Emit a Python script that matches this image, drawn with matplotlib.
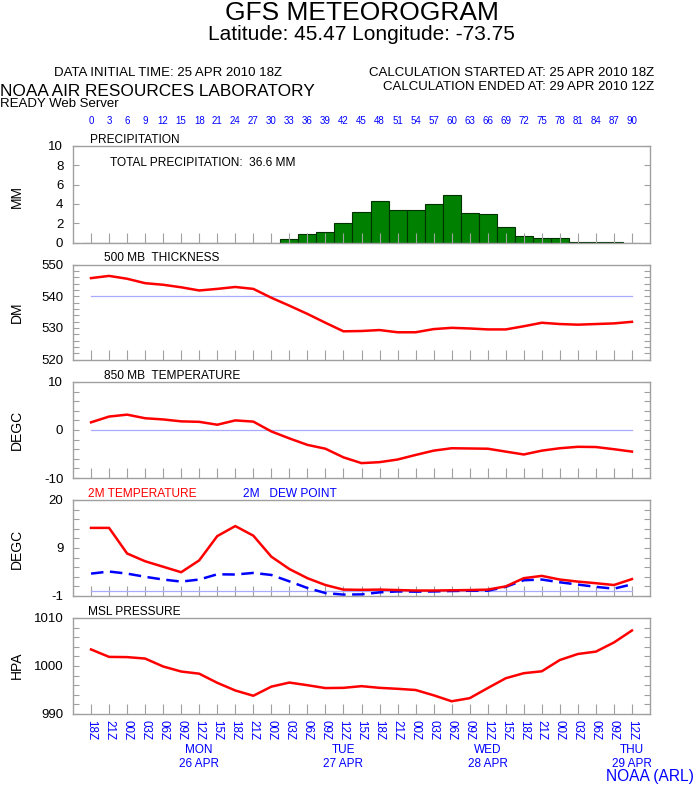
import numpy as np
import matplotlib
matplotlib.use("Agg")
import matplotlib.pyplot as plt
from matplotlib.ticker import FixedLocator, NullFormatter

plt.rcParams['font.family'] = ['Liberation Sans', 'DejaVu Sans']

W, H = 694, 787

# forecast hours (3-hourly)
hours = [0, 3, 6, 9, 12, 15, 18, 21, 24, 27, 30, 33, 36, 39, 42, 45,
         48, 51, 54, 57, 60, 63, 66, 69, 72, 75, 78, 81, 84, 87, 90]
utc_labels = ["18Z", "21Z", "00Z", "03Z", "06Z", "09Z", "12Z", "15Z",
              "18Z", "21Z", "00Z", "03Z", "06Z", "09Z", "12Z", "15Z",
              "18Z", "21Z", "00Z", "03Z", "06Z", "09Z", "12Z", "15Z",
              "18Z", "21Z", "00Z", "03Z", "06Z", "09Z", "12Z"]
day_hours = [18, 42, 66, 90]
day_names = ["MON", "TUE", "WED", "THU"]
day_dates = ["26 APR", "27 APR", "28 APR", "29 APR"]

# precipitation per 3h (mm)
precip = [0, 0, 0, 0, 0, 0, 0, 0, 0, 0, 0, 0.4, 0.85, 1.05, 2.0, 3.15,
          4.3, 3.35, 3.35, 4.0, 4.9, 3.1, 3.0, 1.6, 0.65, 0.5, 0.5,
          0.05, 0.05, 0.03, 0]
# 500 mb thickness (dm)
thickness = [545.7, 546.4, 545.5, 544.1, 543.6, 542.8, 541.8, 542.3, 542.9,
             542.3, 539.5, 537.0, 534.4, 531.6, 528.9, 529.0, 529.3, 528.6,
             528.6, 529.6, 530.0, 529.8, 529.5, 529.5, 530.5, 531.6, 531.2,
             531.0, 531.2, 531.4, 531.9]
# 850 mb temperature (C)
t850 = [1.6, 2.8, 3.2, 2.45, 2.2, 1.8, 1.7, 1.1, 2.0, 1.75, -0.3, -1.75,
        -3.1, -3.9, -5.7, -6.9, -6.7, -6.15, -5.2, -4.3, -3.8, -3.85, -3.9,
        -4.5, -5.1, -4.3, -3.8, -3.5, -3.55, -4.0, -4.5]
# 2 m temperature and dew point (C)
t2m = [13.9, 13.9, 8.3, 6.6, 5.4, 4.2, 6.8, 12.1, 14.3, 12.2, 7.6, 4.9,
       2.9, 1.4, 0.4, 0.35, 0.4, 0.3, 0.2, 0.2, 0.25, 0.3, 0.4, 1.1, 2.9,
       3.4, 2.6, 2.15, 1.8, 1.4, 2.7]
dew2m = [3.9, 4.35, 3.9, 3.2, 2.6, 2.15, 2.6, 3.75, 3.7, 4.05, 3.6, 2.2,
         0.75, -0.35, -0.7, -0.65, -0.2, 0.0, -0.05, 0.0, 0.1, 0.15, 0.15,
         1.0, 2.45, 2.6, 2.0, 1.5, 1.0, 0.6, 1.55]
# mean sea level pressure (hPa)
mslp = [1003.45, 1001.9, 1001.85, 1001.55, 999.9, 998.85, 998.4, 996.5,
        994.9, 993.8, 995.7, 996.55, 996.0, 995.4, 995.45, 995.8, 995.45,
        995.25, 995.0, 993.9, 992.65, 993.3, 995.4, 997.45, 998.5, 998.9,
        1001.25, 1002.5, 1003.0, 1004.9, 1007.4]

GRAY = "#a0a0a0"
REF = "#aaaaff"


def fx(x):
    return x / W


def fy(y):
    return 1 - y / H


def make_axes(fig, top, bottom):
    ax = fig.add_axes([fx(73), fy(bottom), fx(577), (bottom - top) / H])
    ax.set_xlim(-3, 93)
    for s in ax.spines.values():
        s.set_color(GRAY)
        s.set_linewidth(1)
    ax.set_xticks(hours)
    ax.set_xticklabels([])
    ax.tick_params(axis='x', direction='in', length=7, color=GRAY, width=0.8)
    ax.tick_params(axis='y', which='both', direction='in', length=4,
                   color=GRAY, width=0.8, left=True, right=True,
                   labelsize=9.5, pad=7)
    return ax


def set_yticks(ax, lo, hi, major, labels, minor):
    ax.set_ylim(lo, hi)
    ax.yaxis.set_major_locator(FixedLocator(major))
    ax.set_yticklabels(labels)
    ax.yaxis.set_minor_locator(FixedLocator(minor))
    ax.yaxis.set_minor_formatter(NullFormatter())


def ylabel(fig, y, txt):
    fig.text(fx(17), fy(y), txt, rotation=90, ha='center', va='center',
             fontsize=10)


fig = plt.figure(figsize=(W / 100, H / 100), dpi=100)

# header
fig.text(fx(362), fy(13), "GFS METEOROGRAM", ha='center', va='center',
         fontsize=19)
fig.text(fx(361), fy(34), "Latitude: 45.47 Longitude: -73.75",
         ha='center', va='center', fontsize=15)
fig.text(fx(168), fy(73), "DATA INITIAL TIME: 25 APR 2010 18Z",
         ha='center', va='center', fontsize=9.5)
fig.text(fx(0), fy(91), "NOAA AIR RESOURCES LABORATORY",
         ha='left', va='center', fontsize=12.4)
fig.text(fx(0), fy(104), "READY Web Server", ha='left', va='center',
         fontsize=9.5)
fig.text(fx(654), fy(73), "CALCULATION STARTED AT: 25 APR 2010 18Z",
         ha='right', va='center', fontsize=9.5)
fig.text(fx(654), fy(87), "CALCULATION ENDED AT: 29 APR 2010 12Z",
         ha='right', va='center', fontsize=9.5)

# precipitation
ax1 = make_axes(fig, 146, 242.5)
ax1.bar(hours, precip, width=3, color="#008000", edgecolor="#003300",
        linewidth=0.8)
set_yticks(ax1, 0, 10, [0, 2, 4, 6, 8, 10],
           ["0", "2", "4", "6", "8", "10"], [])
for h in hours:
    ax1.text(h, 1.26, str(h), transform=ax1.get_xaxis_transform(),
             ha='center', va='center', fontsize=7, color='blue')
fig.text(fx(90), fy(140), "PRECIPITATION", fontsize=8.6, va='center')
fig.text(fx(110), fy(163), "TOTAL PRECIPITATION:  36.6 MM", fontsize=8.6,
         va='center')
ylabel(fig, 196, "MM")

# 500 mb thickness
ax2 = make_axes(fig, 264.5, 359.5)
ax2.plot([hours[0], hours[-1]], [540, 540], color=REF, lw=0.9)
ax2.plot(hours, thickness, color='red', lw=1.8)
set_yticks(ax2, 520, 550, [520, 530, 540, 550],
           ["520", "530", "540", "550"],
           [522, 524, 526, 528, 532, 534, 536, 538, 542, 544, 546, 548])
fig.text(fx(104), fy(258), "500 MB  THICKNESS", fontsize=8.6, va='center')
ylabel(fig, 312, "DM")

# 850 mb temperature
ax3 = make_axes(fig, 382, 478)
ax3.plot([hours[0], hours[-1]], [0, 0], color=REF, lw=0.9)
ax3.plot(hours, t850, color='red', lw=1.8)
set_yticks(ax3, -10, 10, [-10, 0, 10], ["-10", "0", "10"],
           [-8, -6, -4, -2, 2, 4, 6, 8])
fig.text(fx(104), fy(376), "850 MB  TEMPERATURE", fontsize=8.6,
         va='center')
ylabel(fig, 430, "DEGC")

# 2 m temperature / dew point
ax4 = make_axes(fig, 500, 596)
ax4.plot([hours[0], hours[-1]], [0, 0], color=REF, lw=0.9)
ax4.plot(hours, dew2m, color='blue', lw=1.8, dashes=(5, 2.6))
ax4.plot(hours, t2m, color='red', lw=1.8)
set_yticks(ax4, -1, 20, [-1, 9.5, 20], ["-1", "9", "20"],
           [1.1, 3.2, 5.3, 7.4, 11.6, 13.7, 15.8, 17.9])
fig.text(fx(88), fy(494), "2M TEMPERATURE", fontsize=8.6, va='center',
         color='red')
fig.text(fx(243), fy(494), "2M   DEW POINT", fontsize=8.6, va='center',
         color='blue')
ylabel(fig, 549, "DEGC")

# MSL pressure
ax5 = make_axes(fig, 618, 714)
ax5.plot(hours, mslp, color='red', lw=1.8)
set_yticks(ax5, 990, 1010, [990, 1000, 1010], ["990", "1000", "1010"],
           [992, 994, 996, 998, 1002, 1004, 1006, 1008])
ax5.set_xticklabels(utc_labels, rotation=-90, color='blue', fontsize=8.4)
ax5.tick_params(axis='x', pad=4)
for h, d, dt in zip(day_hours, day_names, day_dates):
    ax5.text(h, -0.37, d, transform=ax5.get_xaxis_transform(),
             ha='center', va='center', fontsize=8.5, color='blue')
    ax5.text(h, -0.52, dt, transform=ax5.get_xaxis_transform(),
             ha='center', va='center', fontsize=8.5, color='blue')
fig.text(fx(88), fy(612), "MSL PRESSURE", fontsize=8.6, va='center')
ylabel(fig, 665, "HPA")
fig.text(fx(694), fy(776), "NOAA (ARL)", ha='right', va='center',
         fontsize=11.2, color='blue')

fig.savefig("out.png", dpi=100)
